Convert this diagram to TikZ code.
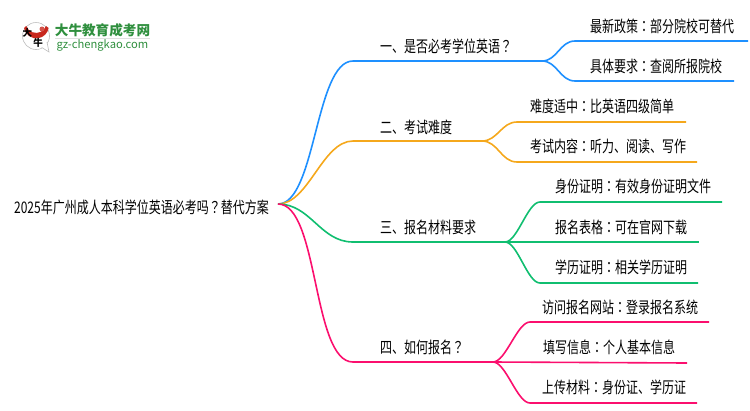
\documentclass[tikz,border=0pt]{standalone}
\usepackage{fontspec}
\setmainfont{Noto Sans CJK SC}
\newfontfamily\punctfont{Noto Sans CJK TC}
\newcommand{\cncolon}{{\punctfont ：}}
\newcommand{\cnask}{{\punctfont ？}}
\definecolor{bluebr}{HTML}{1E90FF}
\definecolor{orangebr}{HTML}{F5A81C}
\definecolor{greenbr}{HTML}{10BE70}
\definecolor{pinkbr}{HTML}{FB0F6E}
\definecolor{logogreen}{HTML}{2F8F3E}
\definecolor{logored}{HTML}{C8281E}
\tikzset{
  branch/.style={line width=1.6pt},
  label/.style={anchor=west,inner sep=0pt,font=\fontsize{16}{16}\selectfont,text=black,xscale=.75,transform shape},
}
\begin{document}
\begin{tikzpicture}[x=1pt,y=-1pt]
\useasboundingbox (0,0) rectangle (750,410);
% logo
\fill [white,draw=black!25,line width=.6pt] (36,36) circle (13.5);
\fill [white,draw=black!25,line width=.6pt] (41,47) -- (49,52) -- (47,42);
\fill [white] (38,44) circle (5);
\fill [logored] (24,28) arc (170:10:12.5) -- (46,26) arc (20:160:10.5) -- cycle;
\fill [logored!80] (42,29) circle (2.5);
\node (logomark1) at (27.5,32.5) [inner sep=0pt,font=\fontsize{9.5}{10}\selectfont\bfseries] {大};
\node (logomark2) at (38,42.5) [inner sep=0pt,font=\fontsize{9.5}{10}\selectfont\bfseries] {牛};
\node (logotitle) at (102.5,30) [inner sep=0pt,text=logogreen,font=\fontsize{13.6}{14}\selectfont\bfseries] {大牛教育成考网};
\node (logourl) at (102.5,45) [inner sep=0pt,text=logogreen,font=\fontsize{11.2}{12}\selectfont] {gz-chengkao.com};
\draw [black!12,line width=.8pt] (55,38) -- (150,38);
% root
\node (title) at (14,207) [label] {2025年广州成人本科学位英语必考吗\cnask 替代方案};
\coordinate (root) at (278,204);
% one
\coordinate (a0) at (353,61);
\coordinate (a1) at (542,61);
\coordinate (a2) at (575,41);
\coordinate (a3) at (748,41);
\coordinate (a4) at (575,81);
\coordinate (a5) at (734,81);
\draw [branch,bluebr] (root) to [out=0,in=180,looseness=.6] (a0) -- (a1) to [out=0,in=180] (a2) -- (a3);
\draw [branch,bluebr] (a1) to [out=0,in=180] (a4) -- (a5);
\node (one) at (380,46) [label] {一、是否必考学位英语\cnask};
\node (one1) at (590,26) [label] {最新政策\cncolon 部分院校可替代};
\node (one2) at (590,66) [label] {具体要求\cncolon 查阅所报院校};
% two
\coordinate (b0) at (353,141);
\coordinate (b1) at (482,141);
\coordinate (b2) at (517,122);
\coordinate (b3) at (686,122);
\coordinate (b4) at (517,162);
\coordinate (b5) at (697,162);
\draw [branch,orangebr] (root) to [out=0,in=180,looseness=.8] (b0) -- (b1) to [out=0,in=180] (b2) -- (b3);
\draw [branch,orangebr] (b1) to [out=0,in=180] (b4) -- (b5);
\node (two) at (380,127) [label] {二、考试难度};
\node (two1) at (530,106) [label] {难度适中\cncolon 比英语四级简单};
\node (two2) at (530,146) [label] {考试内容\cncolon 听力、阅读、写作};
% three
\coordinate (c0) at (353,242);
\coordinate (c1) at (505,242);
\coordinate (c2) at (540,202);
\coordinate (c3) at (722,202);
\coordinate (c4) at (699,242);
\coordinate (c5) at (540,283);
\coordinate (c6) at (698,283);
\draw [branch,greenbr] (root) to [out=0,in=180] (c0) -- (c1) to [out=0,in=180,looseness=.6] (c2) -- (c3);
\draw [branch,greenbr] (c1) -- (c4);
\draw [branch,greenbr] (c1) to [out=0,in=180,looseness=.6] (c5) -- (c6);
\node (three) at (380,227) [label] {三、报名材料要求};
\node (three1) at (555,186) [label] {身份证明\cncolon 有效身份证明文件};
\node (three2) at (555,227) [label] {报名表格\cncolon 可在官网下载};
\node (three3) at (555,267) [label] {学历证明\cncolon 相关学历证明};
% four
\coordinate (d0) at (353,362);
\coordinate (d1) at (493,362);
\coordinate (d2) at (530,322);
\coordinate (d3) at (709,322);
\coordinate (d4) at (687,363);
\coordinate (d5) at (530,403);
\coordinate (d6) at (697,403);
\draw [branch,pinkbr] (root) to [out=0,in=180,looseness=.6] (d0) -- (d1) to [out=0,in=180,looseness=.6] (d2) -- (d3);
\draw [branch,pinkbr] (d1) -- (d4);
\draw [branch,pinkbr] (d1) to [out=0,in=180,looseness=.6] (d5) -- (d6);
\node (four) at (380,347) [label] {四、如何报名\cnask};
\node (four1) at (542,307) [label] {访问报名网站\cncolon 登录报名系统};
\node (four2) at (543,347) [label] {填写信息\cncolon 个人基本信息};
\node (four3) at (542,387) [label] {上传材料\cncolon 身份证、学历证};
\end{tikzpicture}
\end{document}
